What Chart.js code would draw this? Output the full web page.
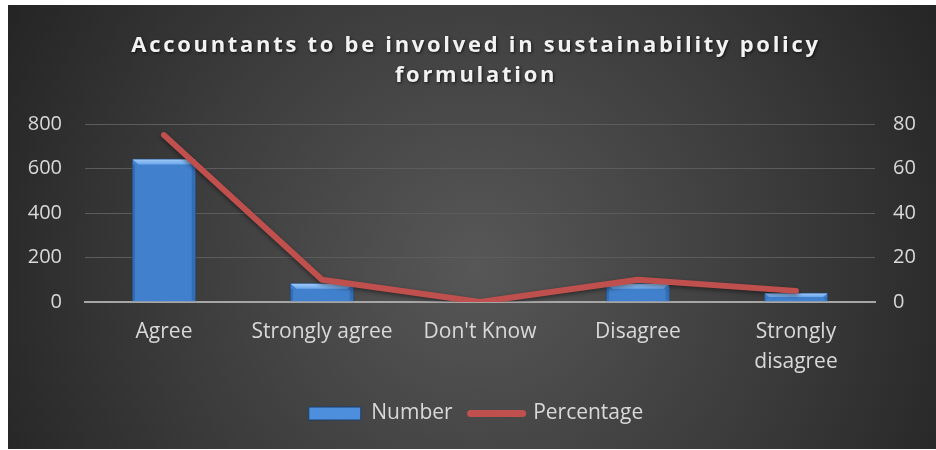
<!DOCTYPE html>
<html>
<head>
<meta charset="utf-8">
<script src="https://cdn.jsdelivr.net/npm/chart.js@4/dist/chart.umd.min.js"></script>
<style>
  html, body { margin: 0; padding: 0; background: #ffffff; }
  #wrap { position: relative; width: 936px; height: 450px; }
</style>
</head>
<body>
<div id="wrap"><canvas id="chart" width="936" height="450"></canvas></div>
<script>
// Survey responses: accountants' involvement in sustainability policy formulation
const titleLines = ['Accountants to be involved in sustainability policy', 'formulation'];
const categories = ['Agree', 'Strongly agree', "Don't Know", 'Disagree', ['Strongly', 'disagree']];
const numberValues = [645, 86, 0, 86, 43];
const percentageValues = [75, 10, 0, 10, 5];
const leftTicks = [0, 200, 400, 600, 800];
const rightTicks = [0, 20, 40, 60, 80];

const FONT = "'Open Sans', 'DejaVu Sans', sans-serif";
const TEXT = '#d9d9d9';
const SIZE = 20;

// Dark panel with a soft radial light in the middle
const panelBackground = {
  id: 'panelBackground',
  beforeDraw(chart) {
    const { ctx, width, height } = chart;
    ctx.save();
    ctx.fillStyle = '#ffffff';
    ctx.fillRect(0, 0, width, height);
    const g = ctx.createRadialGradient(476, 265, 0, 476, 265, 560);
    g.addColorStop(0, '#575757');
    g.addColorStop(0.55, '#3b3b3b');
    g.addColorStop(1, '#222222');
    ctx.fillStyle = g;
    ctx.fillRect(8, 5, width - 8, height - 6);
    ctx.restore();
  }
};

// Spaced, bold, two-line heading
const spacedTitle = {
  id: 'spacedTitle',
  afterDraw(chart) {
    const { ctx } = chart;
    ctx.save();
    ctx.font = `bold 22px ${FONT}`;
    ctx.fillStyle = '#f2f2f2';
    ctx.textAlign = 'center';
    ctx.textBaseline = 'middle';
    if ('letterSpacing' in ctx) ctx.letterSpacing = '2.7px';
    ctx.shadowColor = 'rgba(0,0,0,0.7)';
    ctx.shadowBlur = 3;
    ctx.shadowOffsetX = 1;
    ctx.shadowOffsetY = 1;
    titleLines.forEach((line, i) => ctx.fillText(line, 476, 46 + i * 30));
    ctx.restore();
  }
};

// Centre the legend under the panel rather than the full canvas
const legendShift = {
  id: 'legendShift',
  afterLayout(chart) {
    if (chart.legend) {
      chart.legend.left += 8;
      chart.legend.right += 8;
    }
  }
};

// Bevelled top and shading on the columns, plus a shadow under the line
const columnBevel = {
  id: 'columnBevel',
  beforeDatasetDraw(chart, args) {
    if (chart.data.datasets[args.index].type === 'line') {
      const ctx = chart.ctx;
      ctx.save();
      ctx.shadowColor = 'rgba(0,0,0,0.45)';
      ctx.shadowBlur = 4;
      ctx.shadowOffsetY = 2;
    }
  },
  afterDatasetDraw(chart, args) {
    const ctx = chart.ctx;
    const ds = chart.data.datasets[args.index];
    if (ds.type === 'line') { ctx.restore(); return; }
    args.meta.data.forEach(bar => {
      const { x, y, base, width } = bar.getProps(['x', 'y', 'base', 'width'], true);
      const h = base - y;
      if (!(h >= 1)) return;
      const l = x - width / 2, r = x + width / 2;
      const b = Math.min(6, h / 2);
      ctx.save();
      const tg = ctx.createLinearGradient(0, y, 0, y + b);
      tg.addColorStop(0, '#a9d0fb');
      tg.addColorStop(1, '#6aa6ea');
      ctx.fillStyle = tg;
      ctx.beginPath();
      ctx.moveTo(l + 1, y + 1);
      ctx.lineTo(r - 1, y + 1);
      ctx.lineTo(r - 1 - b, y + b);
      ctx.lineTo(l + 1 + b, y + b);
      ctx.closePath();
      ctx.fill();
      ctx.fillStyle = 'rgba(20,50,100,0.25)';
      ctx.fillRect(r - 1 - b * 0.6, y + b, b * 0.6, h - b - 1);
      ctx.fillRect(l + 1, y + b, b * 0.4, h - b - 1);
      ctx.restore();
    });
  }
};

function barFill(context) {
  const el = context.element;
  const w = el && el.width;
  if (!el || !Number.isFinite(el.x) || !Number.isFinite(w) || w <= 0) return '#4180cc';
  const g = context.chart.ctx.createLinearGradient(el.x - w / 2, 0, el.x + w / 2, 0);
  g.addColorStop(0, '#3a78c4');
  g.addColorStop(0.5, '#4689d6');
  g.addColorStop(1, '#3a76c0');
  return g;
}

new Chart(document.getElementById('chart'), {
  data: {
    labels: categories,
    datasets: [
      {
        type: 'bar',
        label: 'Number',
        data: numberValues,
        yAxisID: 'y',
        backgroundColor: barFill,
        borderColor: '#1d3f6b',
        borderWidth: 1,
        barPercentage: 0.41,
        categoryPercentage: 1,
        order: 2
      },
      {
        type: 'line',
        label: 'Percentage',
        data: percentageValues,
        yAxisID: 'y1',
        borderColor: '#c0504d',
        backgroundColor: '#c0504d',
        borderWidth: 6,
        borderCapStyle: 'round',
        borderJoinStyle: 'round',
        pointRadius: 0,
        pointHoverRadius: 0,
        tension: 0,
        order: 1
      }
    ]
  },
  options: {
    responsive: false,
    animation: false,
    events: [],
    layout: { padding: { top: 124, left: 0, right: 0, bottom: 16 } },
    scales: {
      x: {
        grid: { display: false },
        border: { display: true, color: '#a6a6a6', width: 2 },
        afterFit(scale) { scale.height = 83; },
        ticks: {
          color: TEXT,
          font: { family: FONT, size: 21, lineHeight: '30px' },
          padding: 7,
          maxRotation: 0,
          autoSkip: false
        }
      },
      y: {
        position: 'left',
        min: 0,
        max: 800,
        afterBuildTicks(scale) { scale.ticks = leftTicks.map(v => ({ value: v })); },
        afterFit(scale) { scale.width = 85; },
        grid: { color: '#5c5c5c', lineWidth: 1, drawTicks: false },
        border: { display: false },
        ticks: { color: TEXT, font: { family: FONT, size: SIZE }, padding: 23 }
      },
      y1: {
        position: 'right',
        min: 0,
        max: 80,
        afterBuildTicks(scale) { scale.ticks = rightTicks.map(v => ({ value: v })); },
        afterFit(scale) { scale.width = 61; },
        grid: { display: false, drawTicks: false },
        border: { display: false },
        ticks: { color: TEXT, font: { family: FONT, size: SIZE }, padding: 18 }
      }
    },
    plugins: {
      title: { display: false },
      tooltip: { enabled: false },
      legend: {
        position: 'bottom',
        labels: {
          color: TEXT,
          font: { family: FONT, size: 21 },
          usePointStyle: true,
          pointStyleWidth: 52,
          boxHeight: 13,
          padding: 18,
          generateLabels(chart) {
            const items = Chart.defaults.plugins.legend.labels.generateLabels(chart);
            items.sort((a, b) => a.datasetIndex - b.datasetIndex);
            return items.map(it => {
              if (chart.data.datasets[it.datasetIndex].type === 'line') {
                return Object.assign(it, {
                  pointStyle: 'line', strokeStyle: '#c0504d', lineWidth: 7, lineCap: 'round'
                });
              }
              return Object.assign(it, {
                pointStyle: 'rect', fillStyle: '#4d8fdc', strokeStyle: '#1d3f6b', lineWidth: 1
              });
            });
          }
        }
      }
    }
  },
  plugins: [panelBackground, spacedTitle, legendShift, columnBevel]
});
</script>
</body>
</html>
